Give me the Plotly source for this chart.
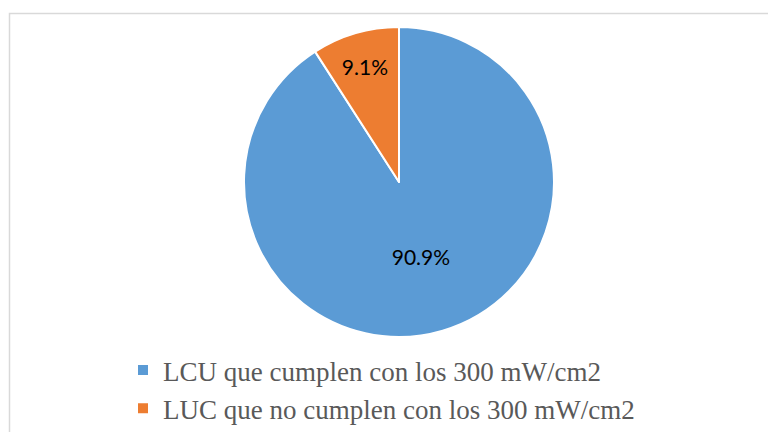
import plotly.graph_objects as go

labels = ["LCU que cumplen con los 300 mW/cm2", "LUC que no cumplen con los 300 mW/cm2"]
values = [90.9, 9.1]
colors = ["#5B9BD5", "#ED7D31"]

W, H = 776, 432
OFF = 8  # page body margin
cx, cy, r = 399 - OFF, 182 - OFF, 155

fig = go.Figure(go.Pie(
    labels=labels,
    values=values,
    sort=False,
    direction="clockwise",
    rotation=0,
    marker=dict(colors=colors, line=dict(color="white", width=2)),
    textinfo="percent",
    texttemplate="%{percent:.1%}",
    textposition="inside",
    insidetextorientation="horizontal",
    textfont=dict(family="Lato, Open Sans, sans-serif", size=21, color="#000000"),
    domain=dict(x=[(cx - r) / W, (cx + r) / W], y=[1 - (cy + r) / H, 1 - (cy - r) / H]),
    hoverinfo="label+percent",
))

fig.update_layout(
    width=W, height=H,
    margin=dict(l=0, r=0, t=0, b=0),
    paper_bgcolor="white",
    showlegend=True,
    legend=dict(
        x=115 / W, xanchor="left",
        y=1 - 338 / H, yanchor="top",
        orientation="v",
        font=dict(family="Liberation Serif, Times New Roman, serif", size=27, color="#595959"),
        tracegroupgap=0,
        itemsizing="constant",
    ),
    shapes=[dict(type="rect", xref="paper", yref="paper",
                 x0=1.5 / W, x1=1.05, y0=-0.05, y1=1 - 5.5 / H,
                 line=dict(color="#D9D9D9", width=1.5), fillcolor="rgba(0,0,0,0)", layer="below")],
)

fig.write_html("out.html")
